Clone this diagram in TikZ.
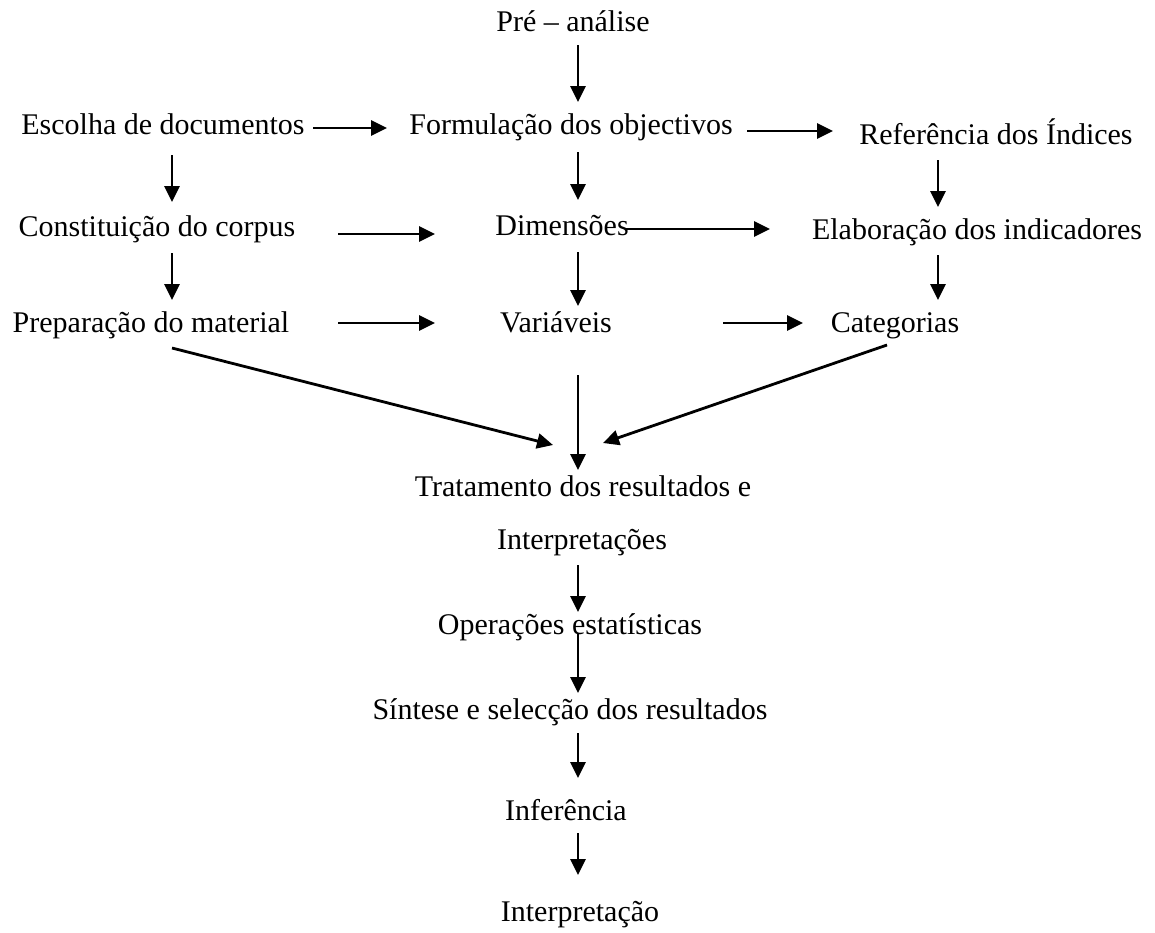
\documentclass[tikz,border=0pt]{standalone}
\usepackage{fontspec}
\setmainfont{Liberation Serif}
\usetikzlibrary{arrows.meta}
\tikzset{
    lbl/.style={inner sep=0pt, font=\fontsize{30}{36}\selectfont, text height=21pt, text depth=7.5pt},
    arr/.style={line width=2.8pt, -{Triangle[length=16pt,width=15pt]}}
}
\begin{document}
\begin{tikzpicture}[x=1pt, y=-1pt]
    \useasboundingbox (0,0) rectangle (1155,932);
    % Draw the labels
    \node[lbl] (pre) at (573,25) {Pré – análise};
    \node[lbl] (escolha) at (163,128) {Escolha de documentos};
    \node[lbl] (formul) at (571,128) {Formulação dos objectivos};
    \node[lbl] (refer) at (996,138) {Referência dos Índices};
    \node[lbl] (const) at (157,230) {Constituição do corpus};
    \node[lbl] (dimens) at (562,229) {Dimensões};
    \node[lbl] (elab) at (977,233) {Elaboração dos indicadores};
    \node[lbl] (prep) at (151,326) {Preparação do material};
    \node[lbl] (variav) at (556,326) {Variáveis};
    \node[lbl] (categ) at (895,326) {Categorias};
    \node[lbl] (trat) at (583,490) {Tratamento dos resultados e};
    \node[lbl] (interps) at (582,543) {Interpretações};
    \node[lbl] (operac) at (570,628) {Operações estatísticas};
    \node[lbl] (sintese) at (570,713) {Síntese e selecção dos resultados};
    \node[lbl] (infer) at (566,814) {Inferência};
    \node[lbl] (interp) at (580,915) {Interpretação};
    % Arrow ends
    \foreach \n/\x/\y in {a1/578/45, b1/578/102, a2/313/128, b2/387/128,
            a3/747/131, b3/833/131, a4/172/155, b4/172/202,
            a5/578/152, b5/578/200, a6/938/160, b6/938/207,
            a7/338/234, b7/435/234, a8/625/229, b8/770/229,
            a9/172/253, b9/172/300, a10/578/252, b10/578/306,
            a11/938/255, b11/938/300, a12/338/323, b12/435/323,
            a13/723/323, b13/803/323, a14/172/348, b14/553/445,
            a15/887/345, b15/603/443, a16/578/375, b16/578/470,
            a17/578/565, b17/578/612, a18/578/633, b18/578/693,
            a19/578/733, b19/578/778, a20/578/833, b20/578/875} {
            \coordinate (\n) at (\x,\y);
        }
    % Draw the arrows
    \foreach \i in {1,...,20} {
            \draw[arr] (a\i) -- (b\i);
        }
\end{tikzpicture}
\end{document}
